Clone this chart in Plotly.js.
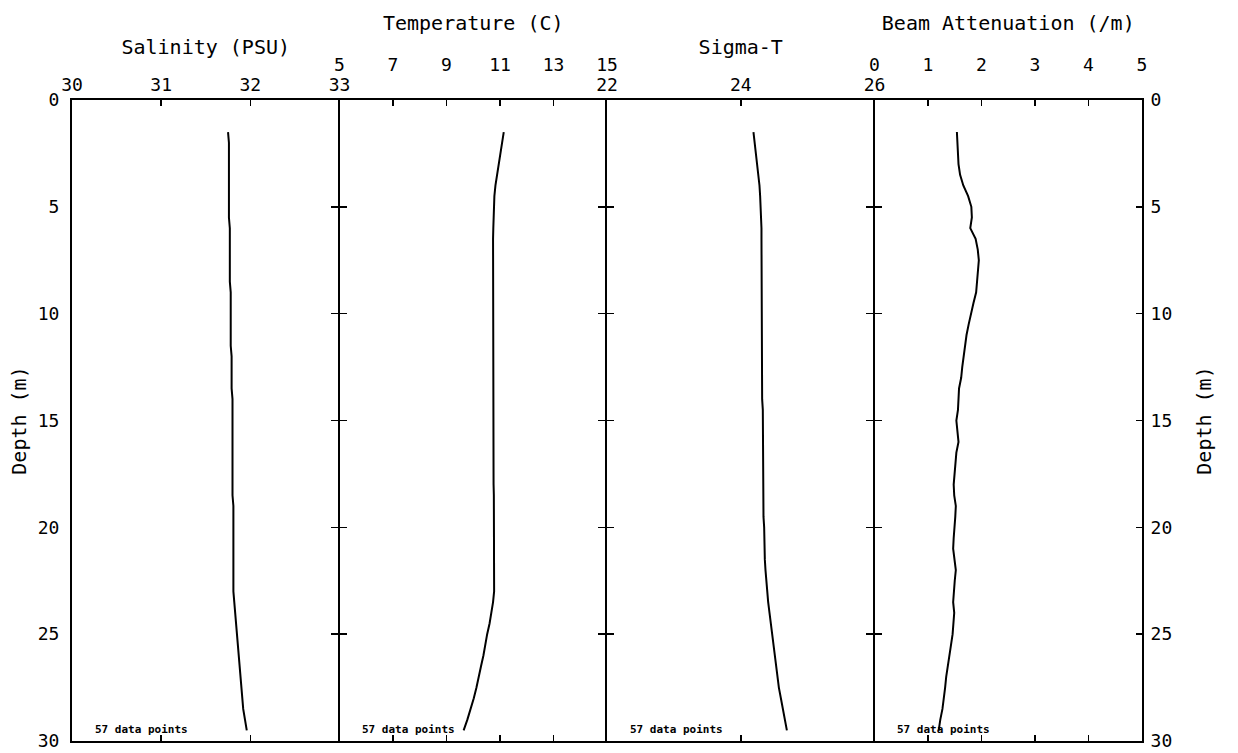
<!DOCTYPE html>
<html>
<head>
<meta charset="utf-8">
<script src="https://cdn.plot.ly/plotly-3.0.1.min.js"></script>
<style>
html,body{margin:0;padding:0;background:#fff;}
#chart{width:1238px;height:753px;}
</style>
</head>
<body>
<div id="chart"></div>
<script>
// Depth (m) of each sample
const depth = [1.5, 2, 2.5, 3, 3.5, 4, 4.5, 5, 5.5, 6,
  6.5, 7, 7.5, 8, 8.5, 9, 9.5, 10, 10.5, 11,
  11.5, 12, 12.5, 13, 13.5, 14, 14.5, 15, 15.5, 16,
  16.5, 17, 17.5, 18, 18.5, 19, 19.5, 20, 20.5, 21,
  21.5, 22, 22.5, 23, 23.5, 24, 24.5, 25, 25.5, 26,
  26.5, 27, 27.5, 28, 28.5, 29, 29.5];

// Salinity (PSU)
const salinity = [31.75, 31.76, 31.76, 31.76, 31.76, 31.76, 31.76, 31.76, 31.76, 31.77,
  31.77, 31.77, 31.77, 31.77, 31.77, 31.78, 31.78, 31.78, 31.78, 31.78,
  31.78, 31.79, 31.79, 31.79, 31.79, 31.80, 31.80, 31.80, 31.80, 31.80,
  31.80, 31.80, 31.80, 31.80, 31.80, 31.81, 31.81, 31.81, 31.81, 31.81,
  31.81, 31.81, 31.81, 31.81, 31.82, 31.83, 31.84, 31.85, 31.86, 31.87,
  31.88, 31.89, 31.90, 31.91, 31.92, 31.94, 31.96];

// Temperature (C)
const temperature = [11.14, 11.08, 11.01, 10.94, 10.88, 10.83, 10.79, 10.77, 10.76, 10.75,
  10.74, 10.74, 10.74, 10.74, 10.74, 10.74, 10.74, 10.74, 10.74, 10.74,
  10.74, 10.75, 10.75, 10.75, 10.75, 10.75, 10.75, 10.75, 10.76, 10.76,
  10.76, 10.76, 10.76, 10.76, 10.77, 10.77, 10.77, 10.77, 10.77, 10.78,
  10.78, 10.78, 10.78, 10.78, 10.74, 10.68, 10.61, 10.52, 10.46, 10.38,
  10.29, 10.21, 10.12, 10.02, 9.91, 9.78, 9.64];

// Sigma-T
const sigmaT = [24.19, 24.21, 24.23, 24.25, 24.27, 24.28, 24.29, 24.30, 24.30, 24.31,
  24.31, 24.31, 24.32, 24.32, 24.32, 24.32, 24.32, 24.32, 24.32, 24.32,
  24.32, 24.32, 24.32, 24.32, 24.32, 24.32, 24.33, 24.33, 24.33, 24.33,
  24.33, 24.33, 24.34, 24.34, 24.34, 24.34, 24.34, 24.35, 24.35, 24.35,
  24.36, 24.37, 24.38, 24.40, 24.41, 24.43, 24.45, 24.46, 24.48, 24.50,
  24.53, 24.55, 24.57, 24.60, 24.63, 24.66, 24.69];

// Beam Attenuation (/m)
const beamAtt = [1.54, 1.55, 1.56, 1.57, 1.60, 1.66, 1.75, 1.81, 1.82, 1.79,
  1.89, 1.93, 1.95, 1.93, 1.92, 1.90, 1.85, 1.80, 1.76, 1.72,
  1.69, 1.67, 1.64, 1.62, 1.58, 1.57, 1.56, 1.53, 1.55, 1.57,
  1.53, 1.51, 1.49, 1.48, 1.49, 1.52, 1.51, 1.49, 1.48, 1.47,
  1.50, 1.52, 1.50, 1.48, 1.47, 1.49, 1.48, 1.46, 1.43, 1.40,
  1.36, 1.34, 1.32, 1.30, 1.27, 1.23, 1.20];

// Panel titles and tick values
const panelTitles = ["Salinity (PSU)", "Temperature (C)", "Sigma-T", "Beam Attenuation (/m)"];
const salTicks = [30, 31, 32, 33];
const tempTicks = [5, 7, 9, 11, 13, 15];
const sigmaTicks = [22, 24, 26];
const beamTicks = [0, 1, 2, 3, 4, 5];
const depthTicks = [0, 5, 10, 15, 20, 25, 30];
const dividerTicks = [5, 10, 15, 20, 25];
const depthTitle = "Depth (m)";
const pointsNote = depth.length + " data points";

const FONT = "DejaVu Sans Mono, monospace";
const tickFont = {family: FONT, size: 18, color: "#000"};
const titleFont = {family: FONT, size: 20, color: "#000"};

const series = [salinity, temperature, sigmaT, beamAtt];
const xids = ["x", "x2", "x3", "x4"];
const traces = series.map((vals, i) => ({
  type: "scatter", mode: "lines",
  x: vals, y: depth, xaxis: xids[i], yaxis: "y",
  line: {color: "#000", width: 2},
  hoverinfo: "skip", showlegend: false
}));
// transparent copies so the right-hand depth axis and the panel dividers get drawn
const helperAxes = [["x4", "y2"], ["x2", "y3"], ["x2", "y4"], ["x3", "y5"], ["x3", "y6"], ["x4", "y7"], ["x4", "y8"]];
helperAxes.forEach(([xa, ya]) => {
  const idx = xids.indexOf(xa);
  traces.push({
    type: "scatter", mode: "lines", x: series[idx], y: depth,
    xaxis: xa, yaxis: ya, opacity: 0, line: {width: 0},
    hoverinfo: "skip", showlegend: false
  });
});

function xAxis(domain, range, ticks, title, high) {
  return {
    domain: domain, range: range, anchor: "y", side: "top",
    showline: true, linecolor: "#000", linewidth: 2, mirror: "ticks",
    ticks: "inside", ticklen: 6, tickwidth: 1.5, tickcolor: "#000",
    tickmode: "array", tickvals: ticks,
    tickfont: tickFont, ticklabelstandoff: high ? 20 : 0,
    showgrid: false, zeroline: false, fixedrange: true,
    title: {text: title, font: titleFont, standoff: high ? 18 : 14}
  };
}
function divider(anchorX, dir) {
  return {
    overlaying: "y", anchor: anchorX, side: "left",
    range: [30, 0], autorange: false,
    showline: true, linecolor: "#000", linewidth: 2,
    ticks: dir, ticklen: 7, tickwidth: 1.5, tickcolor: "#000",
    tickmode: "array", tickvals: dividerTicks, showticklabels: false,
    showgrid: false, zeroline: false, fixedrange: true
  };
}

const layout = {
  width: 1238, height: 753,
  margin: {l: 72, r: 96, t: 100, b: 12},
  paper_bgcolor: "#fff", plot_bgcolor: "#fff",
  showlegend: false,
  xaxis: xAxis([0, 0.25], [30, 33], salTicks, panelTitles[0], false),
  xaxis2: xAxis([0.25, 0.5], [5, 15], tempTicks, panelTitles[1], true),
  xaxis3: xAxis([0.5, 0.75], [22, 26], sigmaTicks, panelTitles[2], false),
  xaxis4: xAxis([0.75, 1], [0, 5], beamTicks, panelTitles[3], true),
  yaxis: {
    range: [30, 0], autorange: false, anchor: "x",
    showline: true, linecolor: "#000", linewidth: 2,
    ticks: "", tickmode: "array", tickvals: depthTicks, tickfont: tickFont,
    ticklabelstandoff: 7,
    showgrid: false, zeroline: false, fixedrange: true,
    title: {text: depthTitle, font: titleFont, standoff: 6}
  },
  yaxis2: {
    overlaying: "y", side: "right", anchor: "x4",
    range: [30, 0], autorange: false,
    showline: true, linecolor: "#000", linewidth: 2,
    ticks: "inside", ticklen: 6, tickwidth: 1.5, tickcolor: "#000",
    tickmode: "array", tickvals: depthTicks, tickfont: tickFont,
    ticklabelstandoff: 3,
    showgrid: false, zeroline: false, fixedrange: true,
    title: {text: depthTitle, font: titleFont, standoff: 26}
  },
  yaxis3: divider("x2", "outside"),
  yaxis4: divider("x2", "inside"),
  yaxis5: divider("x3", "outside"),
  yaxis6: divider("x3", "inside"),
  yaxis7: divider("x4", "outside"),
  yaxis8: divider("x4", "inside"),
  annotations: xids.map(xid => ({
    xref: xid + " domain", yref: "y", x: 0.078, y: 29.45,
    xanchor: "left", yanchor: "middle", showarrow: false,
    text: pointsNote,
    font: {family: FONT, size: 11, color: "#000", weight: "bold"}
  }))
};

Plotly.newPlot("chart", traces, layout, {staticPlot: true, displayModeBar: false});
</script>
</body>
</html>
